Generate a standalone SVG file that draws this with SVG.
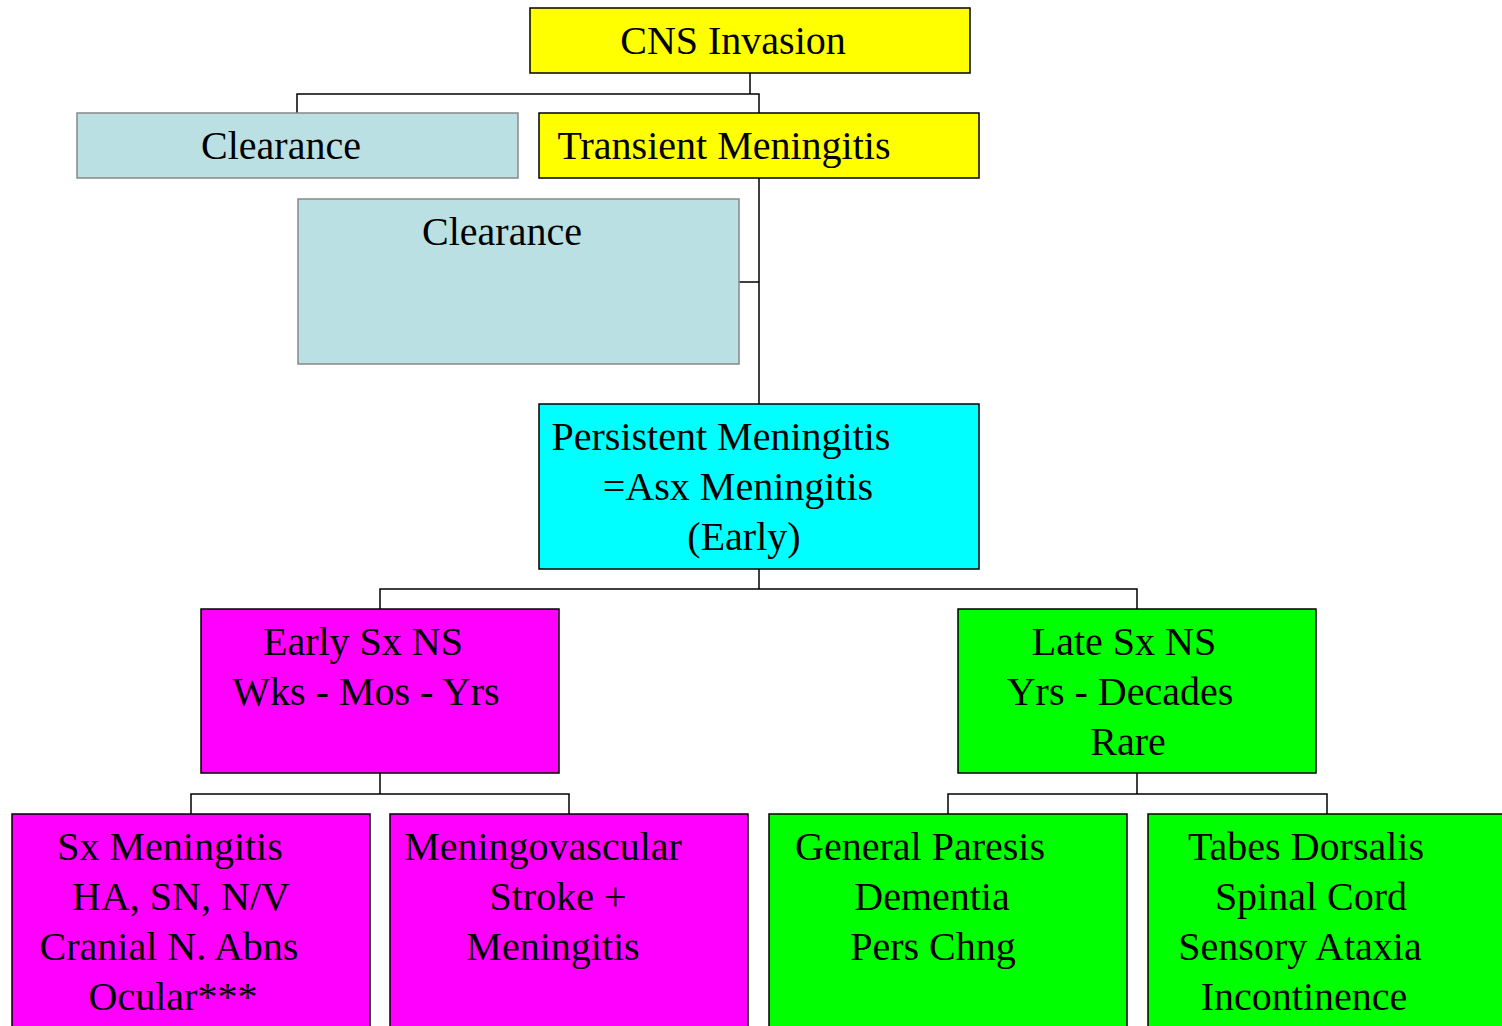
<svg xmlns="http://www.w3.org/2000/svg" width="1502" height="1026" viewBox="0 0 1502 1026">
<style>
.b{stroke:#000;stroke-width:1.5}
.g{fill:#BBE0E3;stroke:#888;stroke-width:1.5}
.y{fill:#FFFF00}
.c{fill:#00FFFF}
.m{fill:#FF00FF}
.n{fill:#00FF00}
text{font-size:40px;fill:#000;text-anchor:middle}
.w{fill:none;stroke:#000;stroke-width:1.5}
</style>
<rect width="1502" height="1026" fill="#fff"/>
<g id="connectors" class="w">
<path d="M750,73V94M297,113V94H759V113"/>
<path d="M759,178V404M739,282H759"/>
<path d="M759,569V589M380,609V589H1137V609"/>
<path d="M380,773V794M191,814V794H569V814"/>
<path d="M1137,773V794M948,814V794H1327V814"/>
</g>
<g font-family="Liberation Serif, DejaVu Serif, serif">
<g id="cns"><rect class="b y" x="530" y="8" width="440" height="65"/><text x="733" y="54">CNS Invasion</text></g>
<g id="clearance1"><rect class="g" x="77" y="113" width="441" height="65"/><text x="281" y="159">Clearance</text></g>
<g id="transient"><rect class="b y" x="539" y="113" width="440" height="65"/><text x="724" y="159">Transient Meningitis</text></g>
<g id="clearance2"><rect class="g" x="298" y="199" width="441" height="165"/><text x="502" y="245">Clearance</text></g>
<g id="persistent"><rect class="b c" x="539" y="404" width="440" height="165"/><text x="721" y="450">Persistent Meningitis</text><text x="738" y="500">=Asx Meningitis</text><text x="744" y="550">(Early)</text></g>
<g id="early"><rect class="b m" x="201" y="609" width="358" height="164"/><text x="363" y="655">Early Sx NS</text><text x="366" y="705">Wks - Mos - Yrs</text></g>
<g id="late"><rect class="b n" x="958" y="609" width="358" height="164"/><text x="1124" y="655">Late Sx NS</text><text x="1120" y="705">Yrs - Decades</text><text x="1128" y="755">Rare</text></g>
<g id="sxmen"><rect class="b m" x="12" y="814" width="358" height="220"/><text x="170" y="860">Sx Meningitis</text><text x="181" y="910">HA, SN, N/V</text><text x="169" y="960">Cranial N. Abns</text><text x="173" y="1010">Ocular***</text></g>
<g id="meningo"><rect class="b m" x="390" y="814" width="358" height="220"/><text x="543" y="860">Meningovascular</text><text x="558" y="910">Stroke +</text><text x="553" y="960">Meningitis</text></g>
<g id="paresis"><rect class="b n" x="769" y="814" width="358" height="220"/><text x="920" y="860">General Paresis</text><text x="932" y="910">Dementia</text><text x="933" y="960">Pers Chng</text></g>
<g id="tabes"><rect class="b n" x="1148" y="814" width="360" height="220"/><text x="1306" y="860">Tabes Dorsalis</text><text x="1311" y="910">Spinal Cord</text><text x="1300" y="960">Sensory Ataxia</text><text x="1304" y="1010">Incontinence</text></g>
</g>
</svg>
